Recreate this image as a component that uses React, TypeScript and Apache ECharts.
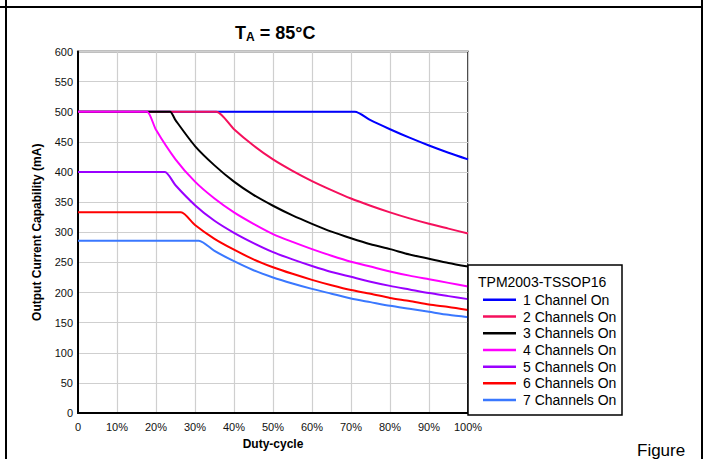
import React, { useEffect, useRef } from "react";
import * as echarts from "echarts";

const seriesNames = [
  "1 Channel On",
  "2 Channels On",
  "3 Channels On",
  "4 Channels On",
  "5 Channels On",
  "6 Channels On",
  "7 Channels On",
];
const seriesColors = ["#0000ff", "#f5105c", "#000000", "#ff00ff", "#9a00ff", "#ff0000", "#3a78ff"];

// [duty-cycle %, output current mA]
const ch1: [number, number][] = [[0, 500], [69, 500], [71, 500], [75, 486], [80, 471], [85, 457], [90, 444], [95, 432], [100, 421]];
const ch2: [number, number][] = [[0, 500], [33.5, 500], [35.5, 500], [40, 471], [45, 444], [50, 421], [55, 402], [60, 385], [65, 370], [70, 356], [75, 344], [80, 333], [85, 323], [90, 314], [95, 306], [100, 298]];
const ch3: [number, number][] = [[0, 500], [21.6, 500], [23.6, 500], [25, 486], [30, 443], [35, 411], [40, 384], [45, 362], [50, 344], [55, 328], [60, 314], [65, 301], [70, 290], [75, 280], [80, 272], [85, 263], [90, 256], [95, 249], [100, 243]];
const ch4: [number, number][] = [[0, 500], [15.7, 500], [17.7, 500], [20, 470], [25, 421], [30, 384], [35, 356], [40, 333], [45, 314], [50, 297], [55, 284], [60, 272], [65, 261], [70, 251], [75, 243], [80, 235], [85, 228], [90, 222], [95, 216], [100, 210]];
const ch5: [number, number][] = [[0, 400], [20.3, 400], [22.3, 400], [25, 378], [30, 345], [35, 319], [40, 299], [45, 282], [50, 267], [55, 255], [60, 244], [65, 234], [70, 226], [75, 218], [80, 211], [85, 205], [90, 199], [95, 194], [100, 189]];
const ch6: [number, number][] = [[0, 333], [24.4, 333], [26.4, 333], [30, 312], [35, 289], [40, 271], [45, 255], [50, 242], [55, 231], [60, 221], [65, 212], [70, 204], [75, 198], [80, 191], [85, 186], [90, 180], [95, 176], [100, 171]];
const ch7: [number, number][] = [[0, 286], [29, 286], [31, 286], [35, 269], [40, 252], [45, 237], [50, 225], [55, 215], [60, 206], [65, 198], [70, 190], [75, 184], [80, 178], [85, 173], [90, 168], [95, 163], [100, 159]];
const allData = [ch1, ch2, ch3, ch4, ch5, ch6, ch7];

const xTicks = [0, 10, 20, 30, 40, 50, 60, 70, 80, 90, 100];
const yTicks = [0, 50, 100, 150, 200, 250, 300, 350, 400, 450, 500, 550, 600];

const FONT = "'Liberation Sans', Arial, sans-serif";

export default function App() {
  const ref = useRef<HTMLDivElement>(null);
  useEffect(() => {
    if (!ref.current) return;
    const chart = echarts.init(ref.current, null, { renderer: "svg" });
    chart.setOption({
      animation: false,
      backgroundColor: "#ffffff",
      textStyle: { fontFamily: FONT },
      title: {
        text: "{t|T}{s|A}{t| = 85°C}",
        left: 230,
        top: 18,
        textStyle: {
          rich: {
            t: { fontSize: 18, fontWeight: "bold", color: "#000", fontFamily: FONT },
            s: { fontSize: 12, fontWeight: "bold", color: "#000", fontFamily: FONT, verticalAlign: "bottom", padding: [8, 0, 0, 0] },
          },
        },
      },
      grid: {
        left: 78,
        top: 51.5,
        width: 390,
        height: 361.5,
        show: true,
        borderColor: "#000",
        borderWidth: 1.5,
        backgroundColor: "transparent",
      },
      xAxis: {
        type: "value",
        min: xTicks[0],
        max: xTicks[xTicks.length - 1],
        interval: 10,
        name: "Duty-cycle",
        nameLocation: "middle",
        nameGap: 25,
        nameTextStyle: { fontSize: 12, fontWeight: "bold", color: "#000", fontFamily: FONT },
        axisLine: { show: true, lineStyle: { color: "#000", width: 2 } },
        axisTick: { show: false },
        axisLabel: {
          fontSize: 11,
          color: "#111",
          margin: 8,
          formatter: (v: number) => (v === 0 ? "0" : v + "%"),
        },
        splitLine: { show: true, lineStyle: { color: "#cfcfcf", width: 1.2 } },
      },
      yAxis: {
        type: "value",
        min: yTicks[0],
        max: yTicks[yTicks.length - 1],
        interval: 50,
        name: "Output Current Capability (mA)",
        nameLocation: "middle",
        nameGap: 35,
        nameTextStyle: { fontSize: 12, fontWeight: "bold", color: "#000", fontFamily: FONT },
        axisLine: { show: true, lineStyle: { color: "#000", width: 2 } },
        axisTick: { show: false },
        axisLabel: { fontSize: 11, color: "#111", margin: 5 },
        splitLine: { show: true, lineStyle: { color: "#cfcfcf", width: 1.2 } },
      },
      legend: {
        orient: "vertical",
        left: 478,
        top: 286.5,
        itemWidth: 33,
        itemHeight: 2.5,
        itemGap: 0,
        icon: "rect",
        data: seriesNames,
        textStyle: { fontSize: 14, color: "#000", fontFamily: FONT, lineHeight: 16.7, padding: [0, 0, 0, 2] },
        selectedMode: false,
        z: 10,
      },
      graphic: [
        { type: "line", shape: { x1: 0, y1: 7, x2: 702, y2: 7 }, style: { stroke: "#000", lineWidth: 2 } },
        { type: "line", shape: { x1: 6, y1: 0, x2: 6, y2: 459 }, style: { stroke: "#000", lineWidth: 2 } },
        { type: "line", shape: { x1: 702, y1: 0, x2: 702, y2: 459 }, style: { stroke: "#000", lineWidth: 2 } },
        {
          type: "rect",
          shape: { x: 468, y: 265, width: 154, height: 150 },
          style: { fill: "#fff", stroke: "#000", lineWidth: 1.5 },
          z: 5,
        },
        {
          type: "text",
          x: 478,
          y: 282,
          style: { text: "TPM2003-TSSOP16", fontSize: 14, fill: "#000", fontFamily: FONT, verticalAlign: "middle" },
          z: 6,
        },
        {
          type: "text",
          x: 637,
          y: 442,
          style: { text: "Figure", fontSize: 17, fill: "#000", fontFamily: FONT },
        },
      ],
      series: allData.map((d, i) => ({
        name: seriesNames[i],
        type: "line",
        data: d,
        symbol: "none",
        smooth: 0.25,
        lineStyle: { color: seriesColors[i], width: 2 },
        itemStyle: { color: seriesColors[i] },
      })),
    });
    return () => chart.dispose();
  }, []);
  return <div ref={ref} style={{ position: "fixed", left: 0, top: 0, width: 707, height: 459 }} />;
}
